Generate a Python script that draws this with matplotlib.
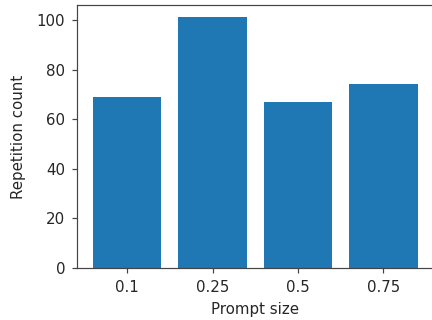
import matplotlib
matplotlib.use("Agg")
import matplotlib.pyplot as plt

categories = ["0.1", "0.25", "0.5", "0.75"]
counts = [69, 101, 67, 74]

fig = plt.figure(figsize=(6, 320/72), dpi=72)
ax = fig.add_axes([0.178, 0.1625, 0.826, 0.822])
ax.bar(categories, counts, color="#1f77b4")
ax.set_xlabel("Prompt size", fontsize=15, color="#262626", labelpad=7)
ax.set_ylabel("Repetition count", fontsize=15, color="#262626", labelpad=11)
ax.tick_params(labelsize=15, length=5.25, width=1.2, colors="#444444", labelcolor="#262626", pad=6.5)
for s in ax.spines.values():
    s.set_linewidth(1.2)
    s.set_color("#444444")
fig.savefig("out.png", dpi=72)
